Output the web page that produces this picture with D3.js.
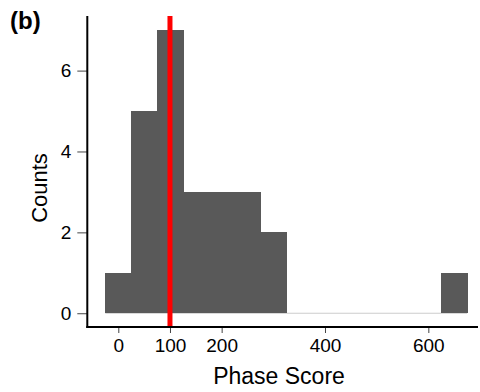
<!DOCTYPE html>
<html><head><meta charset="utf-8">
<script src="https://cdn.jsdelivr.net/npm/d3@7/dist/d3.min.js"></script>
<style>body{margin:0;background:#fff}svg{display:block}text{font-family:"Liberation Sans",Arial,Helvetica,sans-serif}</style>
</head><body>
<svg id="c" width="480" height="392"></svg>
<script>
// bin edges (left) and counts, bin width 50
const binStarts = [-25, 25, 75, 125, 175, 225, 275, 325, 375, 425, 475, 525, 575, 625];
const counts    = [1, 5, 7, 3, 3, 3, 2, 0, 0, 0, 0, 0, 0, 1];
const binWidth = 50;
const xTicks = [0, 100, 200, 400, 600];
const yTicks = [0, 2, 4, 6];
const refLine = 100;

const svg = d3.select("#c");
const x = d3.scaleLinear().domain([-60, 700]).range([87.3, 480]);
const y = d3.scaleLinear().domain([-0.34, 7.35]).range([327, 16]);

// zero line for empty bins
svg.append("line").attr("x1", x(-25)).attr("x2", x(675))
  .attr("y1", y(0)).attr("y2", y(0)).attr("stroke", "#cccccc").attr("stroke-width", 1.2);

svg.selectAll("rect.bar").data(binStarts.map((s, i) => ({s, c: counts[i]})).filter(d => d.c > 0))
  .enter().append("rect").attr("class", "bar")
  .attr("x", d => x(d.s)).attr("width", d => x(d.s + binWidth) - x(d.s) + 1)
  .attr("y", d => y(d.c)).attr("height", d => y(0) - y(d.c))
  .attr("shape-rendering", "crispEdges")
  .attr("fill", "#595959");

// red reference line
svg.append("line").attr("x1", x(refLine)).attr("x2", x(refLine))
  .attr("y1", y.range()[1]).attr("y2", y.range()[0])
  .attr("stroke", "#ff0000").attr("stroke-width", 5);

// y axis
const yAxis = d3.axisLeft(y).tickValues(yTicks).tickSize(10).tickPadding(6).tickFormat(d3.format("d"));
const gy = svg.append("g").attr("transform", `translate(${x.range()[0]},0)`).call(yAxis);
gy.select(".domain").remove();
gy.selectAll(".tick line").attr("stroke", "#444");
gy.selectAll(".tick text").attr("font-size", 19).attr("fill", "#000").attr("font-family", '"Liberation Sans",Arial,sans-serif');
svg.append("line").attr("x1", x.range()[0]).attr("x2", x.range()[0])
  .attr("y1", 16).attr("y2", 328).attr("stroke", "#000").attr("stroke-width", 2);

// x axis
const xAxis = d3.axisBottom(x).tickValues(xTicks).tickSize(6).tickPadding(6).tickFormat(d3.format("d"));
const gx = svg.append("g").attr("transform", `translate(0,${y.range()[0]})`).call(xAxis);
gx.select(".domain").remove();
gx.selectAll(".tick line").attr("stroke", "#444");
gx.selectAll(".tick text").attr("font-size", 19).attr("fill", "#000").attr("font-family", '"Liberation Sans",Arial,sans-serif');
svg.append("line").attr("x1", 86.3).attr("x2", 478)
  .attr("y1", 327).attr("y2", 327).attr("stroke", "#000").attr("stroke-width", 2);

// titles
svg.append("text").attr("x", 279).attr("y", 384).attr("text-anchor", "middle")
  .attr("font-size", 23).text("Phase Score");
svg.append("text").attr("transform", "translate(47,188) rotate(-90)").attr("text-anchor", "middle")
  .attr("font-size", 22).text("Counts");
svg.append("text").attr("x", 10).attr("y", 29).attr("font-size", 24).attr("font-weight", "bold").text("(b)");
</script>
</body></html>
